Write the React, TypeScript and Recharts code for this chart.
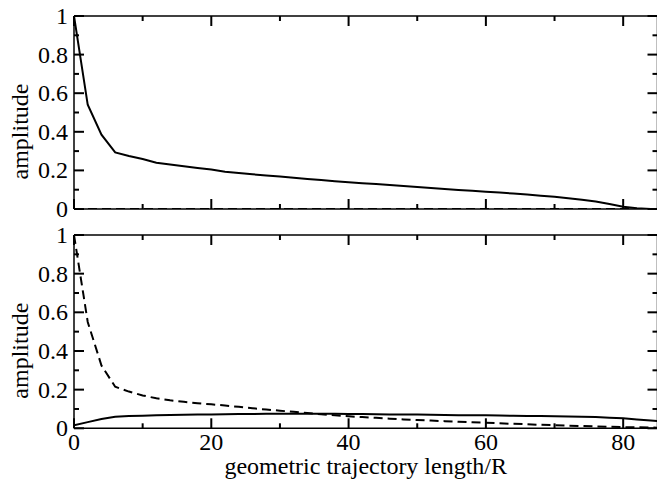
import React from 'react';
import { LineChart, Line, XAxis, YAxis } from 'recharts';

const xValues = [0, 2, 4, 6, 8, 10, 12, 14, 16, 18, 20, 22, 24, 26, 28, 30, 32, 34, 36, 38, 40, 42, 44, 46, 48, 50, 52, 54, 56, 58, 60, 62, 64, 66, 68, 70, 72, 74, 76, 78, 80, 82, 84, 85];

const topSolid = [1.0, 0.54, 0.385, 0.293, 0.275, 0.259, 0.24, 0.231, 0.222, 0.213, 0.205, 0.193, 0.186, 0.18, 0.174, 0.168, 0.162, 0.156, 0.15, 0.144, 0.139, 0.134, 0.129, 0.124, 0.119, 0.114, 0.109, 0.104, 0.099, 0.094, 0.09, 0.085, 0.08, 0.075, 0.069, 0.063, 0.056, 0.048, 0.039, 0.026, 0.012, 0.004, 0.0, 0.0];

const topDashed = [0, 0, 0, 0, 0, 0, 0, 0, 0, 0, 0, 0, 0, 0, 0, 0, 0, 0, 0, 0, 0, 0, 0, 0, 0, 0, 0, 0, 0, 0, 0, 0, 0, 0, 0, 0, 0, 0, 0, 0, 0, 0, 0, 0];

const bottomSolid = [0.015, 0.032, 0.048, 0.06, 0.063, 0.065, 0.067, 0.069, 0.07, 0.071, 0.072, 0.073, 0.074, 0.074, 0.075, 0.075, 0.075, 0.075, 0.075, 0.075, 0.074, 0.074, 0.073, 0.072, 0.072, 0.071, 0.07, 0.069, 0.068, 0.068, 0.067, 0.066, 0.065, 0.064, 0.063, 0.062, 0.061, 0.06, 0.058, 0.055, 0.052, 0.046, 0.04, 0.037];

const bottomDashed = [1.0, 0.55, 0.325, 0.215, 0.19, 0.17, 0.155, 0.145, 0.137, 0.13, 0.124, 0.118, 0.111, 0.104, 0.097, 0.091, 0.085, 0.079, 0.073, 0.067, 0.062, 0.058, 0.054, 0.05, 0.046, 0.043, 0.04, 0.037, 0.034, 0.031, 0.029, 0.026, 0.023, 0.021, 0.018, 0.016, 0.014, 0.012, 0.01, 0.008, 0.006, 0.005, 0.004, 0.003];

const xTicks = [0, 10, 20, 30, 40, 50, 60, 70, 80];
const xMajorTicks = [0, 20, 40, 60, 80];
const yTicks = [0, 0.1, 0.2, 0.3, 0.4, 0.5, 0.6, 0.7, 0.8, 0.9, 1];
const yMajorTicks = [0, 0.2, 0.4, 0.6, 0.8, 1];
const xTitle = 'geometric trajectory length/R';
const yTitle = 'amplitude';

const MAJOR = 10;
const MINOR = 5;
const FS = 24;

const topData = xValues.map((x, i) => ({ x, solid: topSolid[i], dashed: topDashed[i] }));
const bottomData = xValues.map((x, i) => ({ x, solid: bottomSolid[i], dashed: bottomDashed[i] }));

const isMajorY = (v: number) => yMajorTicks.some((m) => Math.abs(m - v) < 1e-9);
const isMajorX = (v: number) => xMajorTicks.some((m) => Math.abs(m - v) < 1e-9);

const LeftTick = (props: any) => {
  const x = Number(props.x);
  const y = Number(props.y);
  const v = Number(props.payload.value);
  const major = isMajorY(v);
  return (
    <g>
      <path d={`M${x},${y}h${major ? MAJOR : MINOR}`} stroke="#000" strokeWidth={2} />
      {major ? (
        <text x={x - 6} y={y + 8} textAnchor="end" fontSize={FS} fill="#000">
          {String(v)}
        </text>
      ) : null}
    </g>
  );
};

const RightTick = (props: any) => {
  const x = Number(props.x);
  const y = Number(props.y);
  const major = isMajorY(Number(props.payload.value));
  return (
    <g>
      <path d={`M${x},${y}h${-(major ? MAJOR : MINOR)}`} stroke="#000" strokeWidth={2} />
    </g>
  );
};

const TopTick = (props: any) => {
  const x = Number(props.x);
  const y = Number(props.y);
  const major = isMajorX(Number(props.payload.value));
  return (
    <g>
      <path d={`M${x},${y}v${major ? MAJOR : MINOR}`} stroke="#000" strokeWidth={2} />
    </g>
  );
};

const BottomTick = (props: any) => {
  const x = Number(props.x);
  const y = Number(props.y);
  const major = isMajorX(Number(props.payload.value));
  return (
    <g>
      <path d={`M${x},${y}v${-(major ? MAJOR : MINOR)}`} stroke="#000" strokeWidth={2} />
    </g>
  );
};

const BottomTickLabeled = (props: any) => {
  const x = Number(props.x);
  const y = Number(props.y);
  const v = Number(props.payload.value);
  const major = isMajorX(v);
  return (
    <g>
      <path d={`M${x},${y}v${-(major ? MAJOR : MINOR)}`} stroke="#000" strokeWidth={2} />
      {major ? (
        <text x={x} y={y + 22} textAnchor="middle" fontSize={FS} fill="#000">
          {String(v)}
        </text>
      ) : null}
    </g>
  );
};

const YTitle = (props: any) => {
  const vb = props.viewBox || { x: 0, y: 0, width: 0, height: 0 };
  const cx = 28;
  const cy = Number(vb.y) + Number(vb.height) / 2 + 19;
  return (
    <text x={cx} y={cy} transform={`rotate(-90 ${cx} ${cy})`} textAnchor="middle" fontSize={FS} fill="#000">
      {yTitle}
    </text>
  );
};

// bottom chart starts at page y = 222, so the title baseline (page y 474) is at 252
const XTitle = () => (
  <text x={74 + 583.5 / 2} y={252} textAnchor="middle" fontSize={FS} fill="#000">
    {xTitle}
  </text>
);

const frame = { stroke: '#000', strokeWidth: 1.5 };

const Panel = ({ data, height, top, bottom, showXLabels }: { data: any[]; height: number; top: number; bottom: number; showXLabels: boolean }) => (
  <LineChart width={658} height={height} data={data} margin={{ top, right: 0.5, bottom, left: 74 }}>
    <XAxis
      xAxisId="b"
      dataKey="x"
      type="number"
      domain={[0, 85]}
      allowDataOverflow
      ticks={xTicks}
      minTickGap={0}
      fontSize={1}
      orientation="bottom"
      mirror
      height={30}
      tickSize={0}
      tickMargin={0}
      tickLine={false}
      axisLine={frame}
      tick={showXLabels ? BottomTickLabeled : BottomTick}
      label={showXLabels ? <XTitle /> : undefined}
    />
    <XAxis
      xAxisId="t"
      dataKey="x"
      type="number"
      domain={[0, 85]}
      allowDataOverflow
      ticks={xTicks}
      minTickGap={0}
      fontSize={1}
      orientation="top"
      mirror
      height={30}
      tickSize={0}
      tickMargin={0}
      tickLine={false}
      axisLine={frame}
      tick={TopTick}
    />
    <YAxis
      yAxisId="l"
      type="number"
      domain={[0, 1]}
      allowDataOverflow
      ticks={yTicks}
      minTickGap={0}
      fontSize={1}
      orientation="left"
      mirror
      width={50}
      tickSize={0}
      tickMargin={0}
      tickLine={false}
      axisLine={frame}
      tick={LeftTick}
      label={<YTitle />}
    />
    <YAxis
      yAxisId="r"
      type="number"
      domain={[0, 1]}
      allowDataOverflow
      ticks={yTicks}
      minTickGap={0}
      fontSize={1}
      orientation="right"
      mirror
      width={50}
      tickSize={0}
      tickMargin={0}
      tickLine={false}
      axisLine={frame}
      tick={RightTick}
    />
    <Line
      xAxisId="b"
      yAxisId="l"
      dataKey="dashed"
      type="linear"
      stroke="#000"
      strokeWidth={2}
      strokeDasharray="9 5"
      dot={false}
      activeDot={false}
      isAnimationActive={false}
    />
    <Line
      xAxisId="b"
      yAxisId="l"
      dataKey="solid"
      type="linear"
      stroke="#000"
      strokeWidth={2}
      dot={false}
      activeDot={false}
      isAnimationActive={false}
    />
  </LineChart>
);

export default function App() {
  return (
    <div style={{ position: 'absolute', left: 0, top: 0, width: 657, height: 481, overflow: 'hidden', background: '#fff' }}>
      <div style={{ position: 'absolute', left: 0, top: 0 }}>
        <Panel data={topData} height={222} top={16} bottom={13} showXLabels={false} />
      </div>
      <div style={{ position: 'absolute', left: 0, top: 222 }}>
        <Panel data={bottomData} height={259} top={13} bottom={52.7} showXLabels={true} />
      </div>
    </div>
  );
}
